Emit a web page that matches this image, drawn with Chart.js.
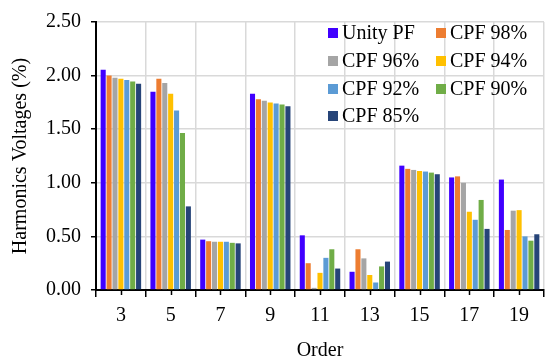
<!DOCTYPE html>
<html><head><meta charset="utf-8">
<script src="https://cdn.jsdelivr.net/npm/chart.js@4"></script>
<style>html,body{margin:0;padding:0;background:#fff}#wrap{width:549px;height:363px}</style>
</head><body><div id="wrap"><canvas id="c" width="549" height="363"></canvas></div>
<script>
const categories = ['3','5','7','9','11','13','15','17','19'];
const seriesNames = ['Unity PF','CPF 98%','CPF 96%','CPF 94%','CPF 92%','CPF 90%','CPF 85%'];
const unityPF = [2.055,1.85,0.47,1.83,0.51,0.17,1.16,1.05,1.03];
const cpf98   = [2.00,1.97,0.455,1.78,0.25,0.38,1.13,1.06,0.56];
const cpf96   = [1.98,1.93,0.45,1.765,0.02,0.295,1.12,1.00,0.74];
const cpf94   = [1.97,1.83,0.45,1.75,0.16,0.14,1.11,0.73,0.745];
const cpf92   = [1.96,1.675,0.45,1.74,0.30,0.07,1.105,0.655,0.50];
const cpf90   = [1.945,1.465,0.44,1.73,0.38,0.22,1.095,0.84,0.46];
const cpf85   = [1.925,0.78,0.435,1.715,0.20,0.265,1.08,0.57,0.52];
const yTicks  = [0.00,0.50,1.00,1.50,2.00,2.50];

const colors = ['#4000ff','#ed7d31','#a5a5a5','#ffc000','#5b9bd5','#70ad47','#264478'];
const seriesValues = [unityPF,cpf98,cpf96,cpf94,cpf92,cpf90,cpf85];
const FONT = 'Liberation Serif';

const datasets = seriesNames.map((n,i)=>({
  label:n, data:seriesValues[i], backgroundColor:colors[i], borderWidth:0,
  barPercentage:0.86, categoryPercentage:0.83
}));

const centerTicks = {
  id:'centerTicks',
  afterDraw(chart){
    const ctx=chart.ctx, xs=chart.scales.x, b=chart.chartArea.bottom;
    ctx.save(); ctx.strokeStyle='#000'; ctx.lineWidth=1.5;
    categories.forEach((c,i)=>{
      const x=Math.round(xs.getPixelForValue(i))+0.5;
      ctx.beginPath(); ctx.moveTo(x,b); ctx.lineTo(x,b+5); ctx.stroke();
    });
    ctx.restore();
  }
};

const boxLegend = {
  id:'boxLegend',
  afterDraw(chart){
    const ctx=chart.ctx, a=chart.chartArea;
    ctx.save();
    ctx.font='20px "'+FONT+'"'; ctx.textBaseline='middle'; ctx.fillStyle='#000';
    const colX=[a.right-216, a.right-108];
    const rowY=[a.top+11, a.top+39, a.top+67, a.top+94];
    chart.data.datasets.forEach((d,i)=>{
      const cx=colX[i%2], cy=rowY[Math.floor(i/2)];
      ctx.fillStyle=d.backgroundColor;
      ctx.fillRect(cx, cy-5, 10, 10);
      ctx.fillStyle='#000';
      ctx.fillText(d.label, cx+14, cy+1);
    });
    ctx.restore();
  }
};

new Chart(document.getElementById('c'),{
  type:'bar',
  data:{labels:categories, datasets},
  options:{
    responsive:false, animation:false, devicePixelRatio:1,
    layout:{padding:{top:16,right:5,left:0,bottom:0}},
    plugins:{legend:{display:false}, tooltip:{enabled:false}},
    scales:{
      x:{
        grid:{offset:true, color:'#d9d9d9', lineWidth:1.5, tickLength:7, tickColor:'#000'},
        border:{color:'#000', width:2},
        ticks:{font:{family:FONT,size:20}, color:'#000', padding:7},
        title:{display:true, text:'Order', font:{family:FONT,size:20}, color:'#000', padding:{top:0,bottom:0}},
        afterFit(s){ s.height=73; }
      },
      y:{
        min:0, max:2.5,
        afterBuildTicks(s){ s.ticks = yTicks.map(v=>({value:v})); },
        ticks:{font:{family:FONT,size:20}, color:'#000', padding:10, callback:v=>Number(v).toFixed(2)},
        grid:{color:'#d9d9d9', lineWidth:1.5, tickLength:5, tickColor:'#000'},
        border:{color:'#000', width:2},
        title:{display:true, text:'Harmonics Voltages (%)', font:{family:FONT,size:20}, color:'#000', padding:{top:9,bottom:0}},
        afterFit(s){ s.width=96; }
      }
    }
  },
  plugins:[centerTicks, boxLegend]
});
</script></body></html>
